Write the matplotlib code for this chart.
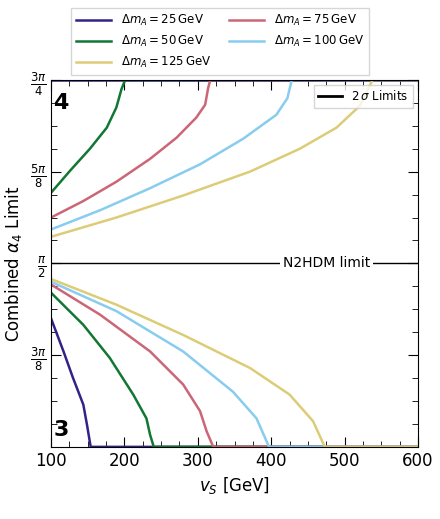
import numpy as np
import matplotlib.pyplot as plt
from matplotlib.ticker import MultipleLocator

P8 = np.pi / 8
labels = [25, 50, 75, 100, 125]
colors = ["#332288", "#117733", "#CC6677", "#88CCEE", "#DDCC77"]

# upper branch (alpha_4 in units of pi/8), reaches 3pi/4 then runs along the top
up_x = [
    [100, 600],
    [100, 127, 153, 176, 189, 196, 201, 600],
    [100, 144, 189, 235, 271, 298, 310, 314, 317, 600],
    [100, 167, 235, 303, 362, 407, 422, 428, 600],
    [100, 189, 280, 371, 439, 489, 521, 538, 600],
]
up_y = [
    [6.0, 6.0],
    [4.77, 5.02, 5.25, 5.48, 5.70, 5.90, 6.0, 6.0],
    [4.50, 4.68, 4.89, 5.14, 5.37, 5.59, 5.73, 5.91, 6.0, 6.0],
    [4.37, 4.58, 4.82, 5.08, 5.36, 5.62, 5.80, 6.0, 6.0],
    [4.29, 4.50, 4.74, 5.00, 5.25, 5.48, 5.72, 6.0, 6.0],
]
# lower branch, reaches pi/4 then runs along the bottom
lo_x = [
    [100, 117, 130, 144, 149, 154, 600],
    [100, 144, 180, 212, 230, 235, 240, 600],
    [100, 167, 235, 280, 303, 312, 321, 600],
    [100, 189, 280, 348, 380, 397, 600],
    [100, 189, 280, 371, 425, 457, 473, 600],
]
lo_y = [
    [3.40, 3.04, 2.75, 2.46, 2.24, 2.0, 2.0],
    [3.68, 3.33, 2.97, 2.57, 2.31, 2.13, 2.0, 2.0],
    [3.77, 3.44, 3.04, 2.68, 2.39, 2.17, 2.0, 2.0],
    [3.80, 3.48, 3.04, 2.60, 2.31, 2.0, 2.0],
    [3.83, 3.55, 3.22, 2.86, 2.57, 2.28, 2.0, 2.0],
]

fig = plt.figure(figsize=(4.4, 5.19), dpi=100)
ax = fig.add_axes([0.116, 0.139, 0.834, 0.707])

handles = []
for i in range(5):
    h, = ax.plot(up_x[i], np.array(up_y[i]) * P8, color=colors[i], lw=1.8,
                 label=rf"$\Delta m_A = {labels[i]}\,\mathrm{{GeV}}$")
    ax.plot(lo_x[i], np.array(lo_y[i]) * P8, color=colors[i], lw=1.8)
    handles.append(h)

ax.axhline(np.pi / 2, color="black", lw=1)
ax.text(475, np.pi / 2, "N2HDM limit", ha="center", va="center", fontsize=10,
        bbox=dict(facecolor="white", edgecolor="none", pad=2))
ax.text(103, 5.75 * P8, "4", fontsize=16, weight="bold", va="center")
ax.text(103, 2.18 * P8, "3", fontsize=16, weight="bold", va="center")

ax.set_xlim(100, 600)
ax.set_ylim(2 * P8, 6 * P8)
ax.set_yticks([3 * P8, 4 * P8, 5 * P8, 6 * P8])
ax.set_yticklabels([r"$\frac{3\pi}{8}$", r"$\frac{\pi}{2}$", r"$\frac{5\pi}{8}$", r"$\frac{3\pi}{4}$"],
                   fontsize=12)
ax.yaxis.set_minor_locator(MultipleLocator(P8 / 4))
ax.xaxis.set_minor_locator(MultipleLocator(25))
ax.tick_params(which="both", direction="in", top=True, right=True)
ax.tick_params(which="major", length=7, labelsize=12)
ax.tick_params(which="minor", length=4)
ax.set_xlabel(r"$v_S$ [GeV]", fontsize=12)
ax.set_ylabel(r"Combined $\alpha_4$ Limit", fontsize=12)

sig, = ax.plot([], [], color="black", lw=2, label=r"$2\,\sigma$ Limits")
ax.legend(handles=[sig], loc="upper right", fontsize=8.5, handlelength=2,
          fancybox=False, borderaxespad=0.4)
order = [0, 1, 4, 2, 3]
fig.legend(handles=[handles[k] for k in order], loc="upper center",
           bbox_to_anchor=(0.5, 0.995), ncol=2,
           fontsize=8.5, fancybox=False, columnspacing=1.5, handlelength=3)

fig.savefig("out.png", dpi=100)
